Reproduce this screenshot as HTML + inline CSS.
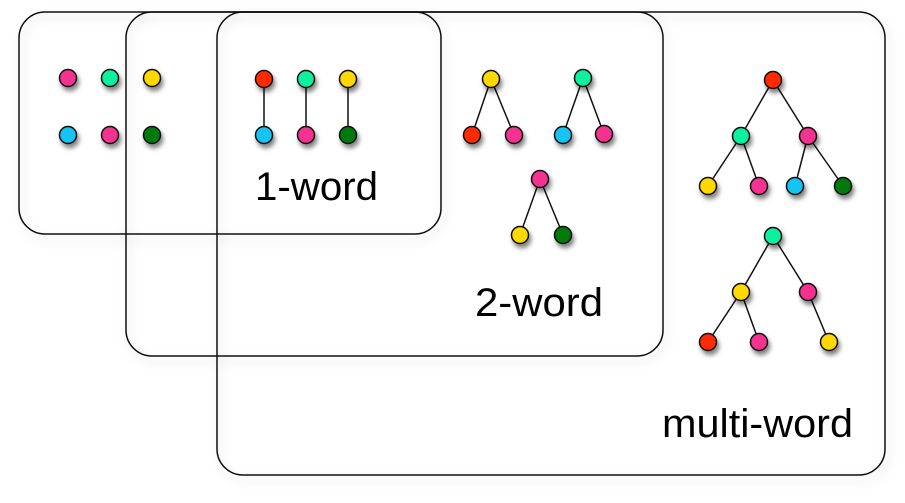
<!DOCTYPE html>
<html><head><meta charset="utf-8"><style>
html,body{margin:0;padding:0;background:#fff;width:905px;height:503px;overflow:hidden}
</style></head><body>
<svg width="905" height="503" viewBox="0 0 905 503" xmlns="http://www.w3.org/2000/svg">
<defs>
<filter id="bs" x="-10%" y="-10%" width="130%" height="130%"><feDropShadow dx="3" dy="5" stdDeviation="5" flood-color="#000" flood-opacity="0.18"/></filter>
<filter id="ns" x="-80%" y="-80%" width="300%" height="300%"><feDropShadow dx="2" dy="4" stdDeviation="2.5" flood-color="#000" flood-opacity="0.5"/></filter>
</defs>
<g fill="none" stroke="#111" stroke-width="1.5" filter="url(#bs)">
<rect x="217" y="12" width="668" height="463" rx="26"/>
<rect x="126" y="12" width="537" height="344" rx="26"/>
<rect x="19" y="12" width="422" height="222" rx="26"/>
</g>
<g stroke="#111" stroke-width="1.5">
<line x1="264" y1="79" x2="264" y2="135"/><line x1="306" y1="79" x2="306" y2="135"/><line x1="348" y1="79" x2="348" y2="135"/>
<line x1="491" y1="79" x2="472" y2="135"/><line x1="491" y1="79" x2="514" y2="135"/>
<line x1="583" y1="78" x2="563" y2="135"/><line x1="583" y1="78" x2="604" y2="134"/>
<line x1="540" y1="179" x2="520" y2="235"/><line x1="540" y1="179" x2="563" y2="235"/>
<line x1="773" y1="80" x2="741" y2="136"/><line x1="773" y1="80" x2="808" y2="136"/>
<line x1="741" y1="136" x2="708" y2="186"/><line x1="741" y1="136" x2="759" y2="186"/>
<line x1="808" y1="136" x2="795" y2="186"/><line x1="808" y1="136" x2="843" y2="186"/>
<line x1="773" y1="236" x2="741" y2="292"/><line x1="773" y1="236" x2="808" y2="292"/>
<line x1="741" y1="292" x2="708" y2="342"/><line x1="741" y1="292" x2="759" y2="342"/>
<line x1="808" y1="292" x2="829" y2="342"/>
</g>
<g stroke="#111" stroke-width="1.5" filter="url(#ns)">
<circle cx="68" cy="78" r="8.5" fill="#f5338f"/><circle cx="110" cy="78" r="8.5" fill="#10f0a0"/><circle cx="152" cy="78" r="8.5" fill="#ffd800"/>
<circle cx="68" cy="135" r="8.5" fill="#14c4f4"/><circle cx="110" cy="135" r="8.5" fill="#f5338f"/><circle cx="152" cy="135" r="8.5" fill="#007a10"/>
<circle cx="264" cy="79" r="8.5" fill="#ff2a00"/><circle cx="306" cy="79" r="8.5" fill="#10f0a0"/><circle cx="348" cy="79" r="8.5" fill="#ffd800"/>
<circle cx="264" cy="135" r="8.5" fill="#14c4f4"/><circle cx="306" cy="135" r="8.5" fill="#f5338f"/><circle cx="348" cy="135" r="8.5" fill="#007a10"/>
<circle cx="491" cy="79" r="8.5" fill="#ffd800"/><circle cx="472" cy="135" r="8.5" fill="#ff2a00"/><circle cx="514" cy="135" r="8.5" fill="#f5338f"/>
<circle cx="583" cy="78" r="8.5" fill="#10f0a0"/><circle cx="563" cy="135" r="8.5" fill="#14c4f4"/><circle cx="604" cy="134" r="8.5" fill="#f5338f"/>
<circle cx="540" cy="179" r="8.5" fill="#f5338f"/><circle cx="520" cy="235" r="8.5" fill="#ffd800"/><circle cx="563" cy="235" r="8.5" fill="#007a10"/>
<circle cx="773" cy="80" r="8.5" fill="#ff2a00"/><circle cx="741" cy="136" r="8.5" fill="#10f0a0"/><circle cx="808" cy="136" r="8.5" fill="#f5338f"/>
<circle cx="708" cy="186" r="8.5" fill="#ffd800"/><circle cx="759" cy="186" r="8.5" fill="#f5338f"/><circle cx="795" cy="186" r="8.5" fill="#14c4f4"/><circle cx="843" cy="186" r="8.5" fill="#007a10"/>
<circle cx="773" cy="236" r="8.5" fill="#10f0a0"/><circle cx="741" cy="292" r="8.5" fill="#ffd800"/><circle cx="808" cy="292" r="8.5" fill="#f5338f"/>
<circle cx="708" cy="342" r="8.5" fill="#ff2a00"/><circle cx="759" cy="342" r="8.5" fill="#f5338f"/><circle cx="829" cy="342" r="8.5" fill="#ffd800"/>
</g>
<g font-family="Liberation Sans, sans-serif" font-size="40" fill="#000">
<text x="255" y="200" textLength="123" lengthAdjust="spacingAndGlyphs">1-word</text>
<text x="475" y="316" textLength="128" lengthAdjust="spacingAndGlyphs">2-word</text>
<text x="662" y="437" textLength="191" lengthAdjust="spacingAndGlyphs">multi-word</text>
</g>
</svg>
</body></html>
